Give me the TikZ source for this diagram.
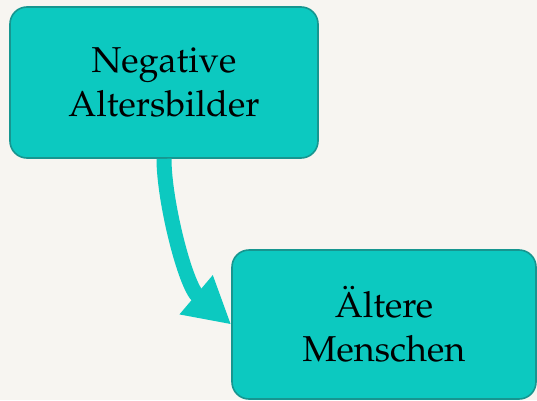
\documentclass[tikz,border=0pt]{standalone}
\usepackage[T1]{fontenc}
\usepackage{mathpazo}
\usepackage{xcolor}
\usetikzlibrary{arrows.meta}

\definecolor{paper}{RGB}{247,245,241}
\definecolor{tealfill}{RGB}{12,201,192}
\definecolor{tealline}{RGB}{22,150,144}

\begin{document}
\begin{tikzpicture}[x=1pt,y=1pt,
    box/.style={draw=tealline,line width=1.6pt,fill=tealfill,rounded corners=17pt,
      align=center,inner sep=0pt,font=\fontsize{36}{44}\selectfont}]
    % Background
    \fill[paper] (0,0) rectangle (537,400);
    \useasboundingbox (0,0) rectangle (537,400);

    % Boxes
    \node[box,minimum width=308pt,minimum height=151pt] (negbilder) at (164,317.5) {Negative\\Altersbilder};
    \node[box,minimum width=304pt,minimum height=149pt] (aeltere) at (384,75.5) {\"Altere\\Menschen};

    % Thick curved arrow
    \draw[tealfill,line width=15pt,-{Triangle[length=46pt,width=48pt]}]
      (negbilder.south) .. controls +(0,-42) and +(-46,39) .. (aeltere.west);
\end{tikzpicture}
\end{document}
